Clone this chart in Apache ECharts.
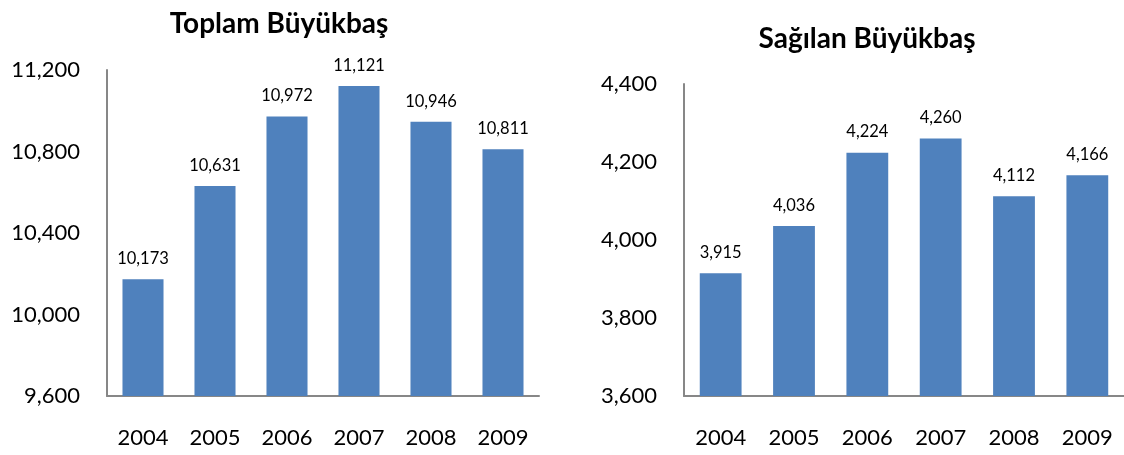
<!DOCTYPE html>
<html>
<head>
<meta charset="utf-8">
<script src="https://cdn.jsdelivr.net/npm/echarts@6/dist/echarts.min.js"></script>
<style>
  html, body { margin: 0; padding: 0; background: #fff; }
  #chart { width: 1124px; height: 455px; }
</style>
</head>
<body>
<div id="chart"></div>
<script>
// veriler
const years = ['2004', '2005', '2006', '2007', '2008', '2009'];
const toplam = [10173, 10631, 10972, 11121, 10946, 10811];
const sagilan = [3915, 4036, 4224, 4260, 4112, 4166];
const titles = ['Toplam Büyükbaş', 'Sağılan Büyükbaş'];

const font = 'Lato, "Open Sans", sans-serif';
const barColor = '#4F81BD';
const axisColor = '#878787';

function fmt(v) {
    return Number(v).toLocaleString('en-US');
}

const chart = echarts.init(document.getElementById('chart'));

function xAxisFor(gridIndex) {
    return {
        type: 'category',
        gridIndex: gridIndex,
        data: years,
        axisLine: { lineStyle: { color: axisColor, width: 2 } },
        axisTick: { show: false },
        axisLabel: { color: '#000', fontFamily: font, fontSize: 22, margin: 31 }
    };
}

function yAxisFor(gridIndex, min, max, interval) {
    return {
        type: 'value',
        gridIndex: gridIndex,
        min: min,
        max: max,
        interval: interval,
        axisLine: { show: true, lineStyle: { color: axisColor, width: 2 } },
        axisTick: { show: false },
        splitLine: { show: false },
        axisLabel: { color: '#000', fontFamily: font, fontSize: 22, margin: 27, formatter: fmt }
    };
}

function barSeries(idx, data) {
    return {
        type: 'bar',
        xAxisIndex: idx,
        yAxisIndex: idx,
        data: data,
        barCategoryGap: '43%',
        itemStyle: { color: barColor },
        label: {
            show: true,
            position: 'top',
            distance: 12,
            color: '#000',
            fontFamily: font,
            fontSize: 16.5,
            formatter: p => fmt(p.value)
        },
        animation: false
    };
}

const option = {
    backgroundColor: '#fff',
    title: [
        {
            text: titles[0],
            left: 274, top: 5,
            textAlign: 'center',
            textStyle: { fontFamily: font, fontSize: 28, fontWeight: 'bold', color: '#000' }
        },
        {
            text: titles[1],
            left: 862, top: 20,
            textAlign: 'center',
            textStyle: { fontFamily: font, fontSize: 28, fontWeight: 'bold', color: '#000' }
        }
    ],
    grid: [
        { left: 107, top: 70, width: 432, height: 326 },
        { left: 684, top: 84, width: 446, height: 312 }
    ],
    xAxis: [xAxisFor(0), xAxisFor(1)],
    yAxis: [yAxisFor(0, 9600, 11200, 400), yAxisFor(1, 3600, 4400, 200)],
    series: [barSeries(0, toplam), barSeries(1, sagilan)]
};

chart.setOption(option);
</script>
</body>
</html>
